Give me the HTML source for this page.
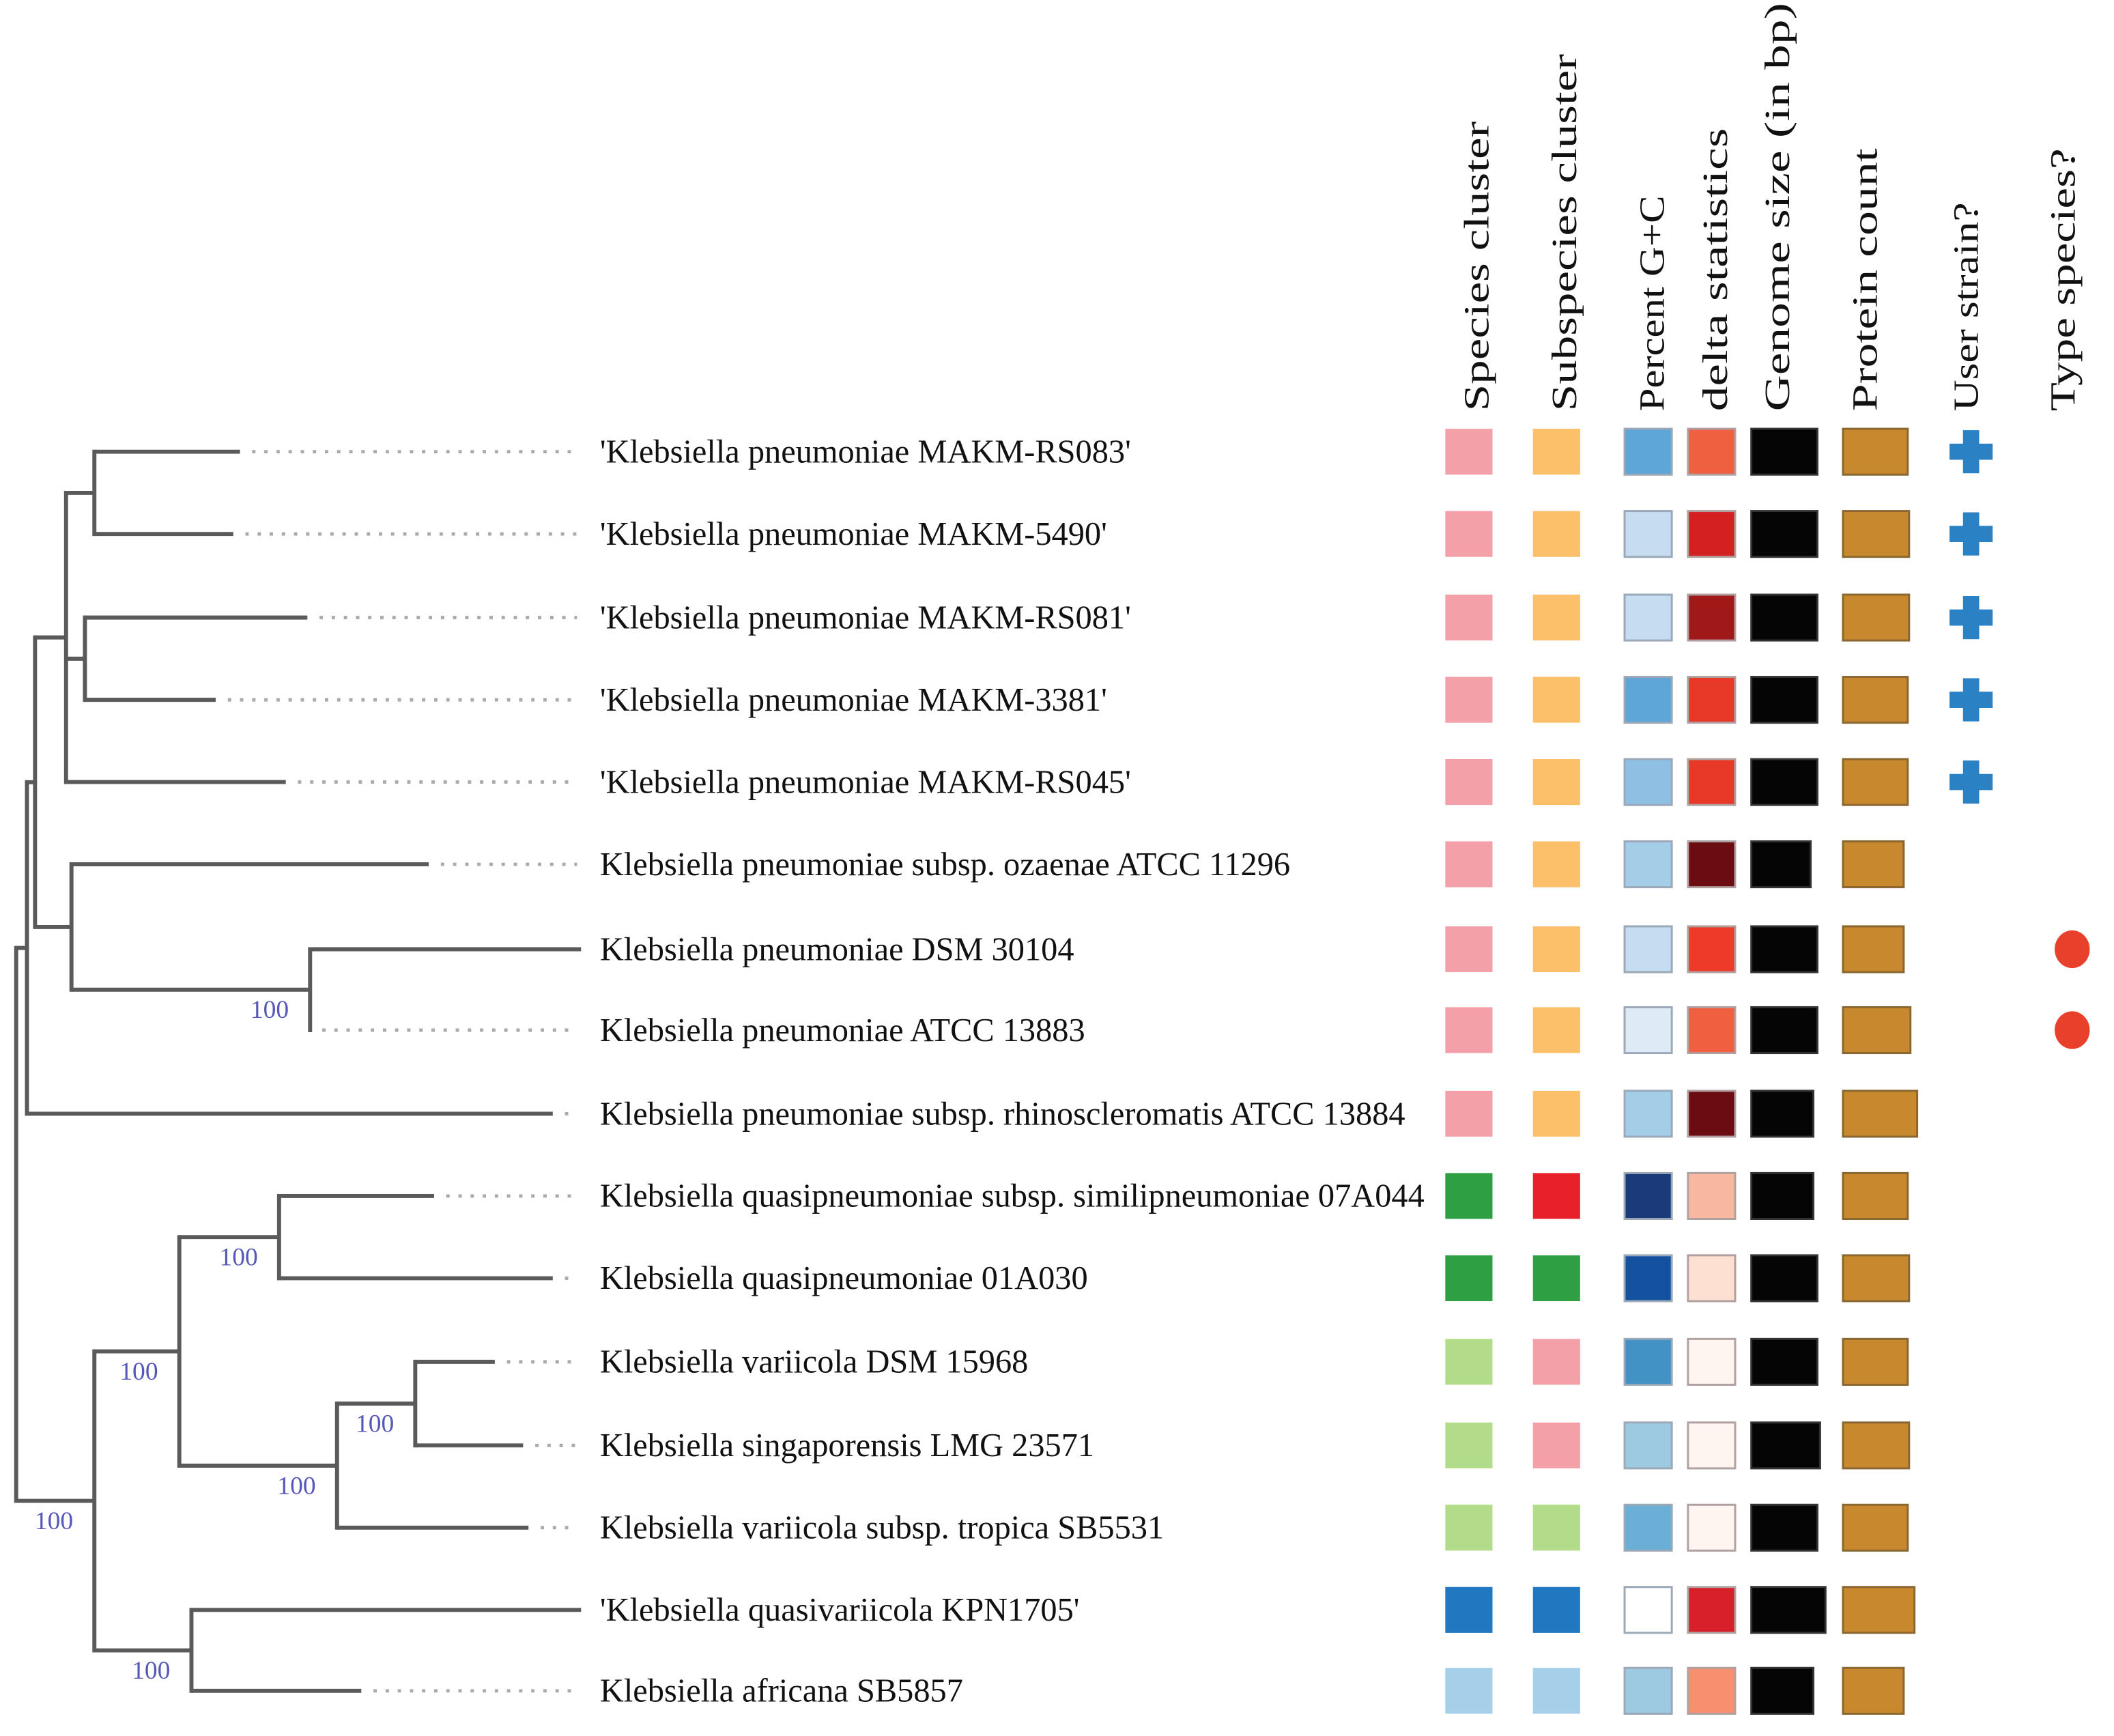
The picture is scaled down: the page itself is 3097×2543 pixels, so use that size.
<!DOCTYPE html>
<html><head><meta charset="utf-8"><style>
html,body{margin:0;padding:0;background:#fff;}
svg{display:block;}
</style></head><body>
<svg id="chart" xmlns="http://www.w3.org/2000/svg" width="3097" height="2543" viewBox="0 0 1568 1287.5">
<rect x="0" y="0" width="1568" height="1287.5" fill="#fff"/>
<g id="tree"></g>
<g id="labels"></g>
<g id="headers"></g>
<g id="cells"></g>
</svg>
<script>
const strains = [
"'Klebsiella pneumoniae MAKM-RS083'",
"'Klebsiella pneumoniae MAKM-5490'",
"'Klebsiella pneumoniae MAKM-RS081'",
"'Klebsiella pneumoniae MAKM-3381'",
"'Klebsiella pneumoniae MAKM-RS045'",
"Klebsiella pneumoniae subsp. ozaenae ATCC 11296",
"Klebsiella pneumoniae DSM 30104",
"Klebsiella pneumoniae ATCC 13883",
"Klebsiella pneumoniae subsp. rhinoscleromatis ATCC 13884",
"Klebsiella quasipneumoniae subsp. similipneumoniae 07A044",
"Klebsiella quasipneumoniae 01A030",
"Klebsiella variicola DSM 15968",
"Klebsiella singaporensis LMG 23571",
"Klebsiella variicola subsp. tropica SB5531",
"'Klebsiella quasivariicola KPN1705'",
"Klebsiella africana SB5857"];
const rowY = [335,396,458,519,580,641,704,764,826,887,948,1010,1072,1133,1194,1254];
const leafEnd = [178,173,228,160,212,318,431,230,410,322,410,367,388,392,431,268];
const nodeX = {A:70,C:63,B:49,G:230,F:53,E:26,H:20,K:207,M:308,L:250,J:133,N:142,I:70,R:12};
const nodeKids = {A:[0,1],C:[2,3],B:['A','C',4],G:[6,7],F:[5,'G'],E:['B','F'],H:['E',8],
  K:[9,10],M:[11,12],L:['M',13],J:['K','L'],N:[14,15],I:['J','N'],R:['H','I']};
const bootstrapNodes = ['G','K','J','M','L','R','N'];
const bootstrapVals = [100,100,100,100,100,100,100];
const headerNames = ["Species cluster","Subspecies cluster","Percent G+C","delta statistics","Genome size (in bp)","Protein count","User strain?","Type species?"];
const speciesColor = ["#f4a0a8","#f4a0a8","#f4a0a8","#f4a0a8","#f4a0a8","#f4a0a8","#f4a0a8","#f4a0a8","#f4a0a8","#2ea043","#2ea043","#b3dc8a","#b3dc8a","#b3dc8a","#1f78c0","#a6cfea"];
const subspeciesColor = ["#fcbf6a","#fcbf6a","#fcbf6a","#fcbf6a","#fcbf6a","#fcbf6a","#fcbf6a","#fcbf6a","#fcbf6a","#e8202a","#2ea043","#f4a0a8","#f4a0a8","#b3dc8a","#1f78c0","#a6cfea"];
const gcColor = ["#5fa6d8","#c6dcf0","#c6dcf0","#5fa6d8","#8fc0e3","#a4cde8","#c6dcf0","#deebf7","#a4cde8","#1a3a7a","#1452a0","#4292c6","#9ecae1","#6baed6","#ffffff","#9ecae1"];
const deltaColor = ["#ee6040","#d42020","#a01818","#e83828","#e83828","#6a0c12","#ee3a28","#f06040","#6a0c12","#f8b8a0","#fde0d2","#fff5f0","#fff5f0","#fff5f0","#d8202a","#f89070"];
const genomeWidth = [49,49,49,49,49,44,49,49,46,46,49,49,51,49,55,46];
const proteinWidth = [48,49,49,48,48,45,45,50,55,48,49,48,49,48,53,45];
const userStrain = [1,1,1,1,1,0,0,0,0,0,0,0,0,0,0,0];
const typeSpecies = [0,0,0,0,0,0,1,1,0,0,0,0,0,0,0,0];

const NS="http://www.w3.org/2000/svg";
function mk(tag, attrs, parent){const e=document.createElementNS(NS,tag);for(const k in attrs)e.setAttribute(k,attrs[k]);parent.appendChild(e);return e;}
const tree=document.getElementById('tree');
const nodeY={};
function yOf(c){ if(typeof c==='number') return rowY[c]; if(nodeY[c]===undefined){const ks=nodeKids[c].map(yOf);nodeY[c]=(Math.min(...ks)+Math.max(...ks))/2;} return nodeY[c]; }
const LINE="#5a5a5a";
for(const n in nodeKids){
  const x=nodeX[n]; const ys=nodeKids[n].map(yOf);
  const v=mk('line',{x1:x,x2:x,y1:Math.min(...ys)-1.5,y2:Math.max(...ys)+1.5,stroke:LINE,'stroke-width':3},tree);
  
  
  nodeKids[n].forEach(c=>{
    const cx = typeof c==='number'? leafEnd[c] : nodeX[c];
    const h=mk('line',{x1:x,x2:cx,y1:yOf(c),y2:yOf(c),stroke:LINE,'stroke-width':3},tree);
    
    
  });
}
rowY.forEach((y,i)=>{
  if(leafEnd[i]<425){
    const d=mk('line',{x1:leafEnd[i]+9,x2:428,y1:y,y2:y,stroke:'#aaa','stroke-width':2.5,'stroke-dasharray':'2.5 6.5'},tree);
    
    
  }
});
bootstrapNodes.forEach((n,i)=>{
  const isRoot = n==='R';
  const cx = isRoot ? nodeX[n]+28 : nodeX[n]-30;
  const cy = isRoot ? yOf('I') : yOf(n);
  const t=mk('text',{x:cx,y:cy+21,'text-anchor':'middle','font-family':'Liberation Serif, serif','font-size':19,fill:'#5558b8'},tree);
  t.textContent=bootstrapVals[i];
  
  
});
const labels=document.getElementById('labels');
strains.forEach((s,i)=>{
  const t=mk('text',{x:445,y:rowY[i]+8,'font-family':'Liberation Serif, serif','font-size':24.5,fill:'#111'},labels);
  t.textContent=s;
  
  
});
const headers=document.getElementById('headers');
const hx=[1095,1160,1225,1272,1318,1383,1458,1530];
const htop=[90,40,145,95,2,110,150,110];
headerNames.forEach((h,i)=>{
  const len=305-htop[i];
  const t=mk('text',{x:0,y:0,transform:`translate(${hx[i]+9},305) rotate(-90)`,'font-family':'Liberation Serif, serif','font-size':26,fill:'#111',textLength:len,lengthAdjust:'spacingAndGlyphs'},headers);
  t.textContent=h;
  
  
});
const cells=document.getElementById('cells');
function box(x,y,w,fill,stroke,name){
  const r=mk('rect',{x:x,y:y-17,width:w,height:34,fill:fill,stroke:stroke,'stroke-width':1.5},cells);
  
  
}
rowY.forEach((y,i)=>{
  box(1072,y,35,speciesColor[i],'none','species-cell-'+i);
  box(1137,y,35,subspeciesColor[i],'none','subspecies-cell-'+i);
  box(1205,y,35,gcColor[i],'#9aa8b8','gc-cell-'+i);
  box(1252,y,35,deltaColor[i],'#b0a0a0','delta-cell-'+i);
  box(1299,y,genomeWidth[i],'#050505','#333','genome-cell-'+i);
  box(1367,y,proteinWidth[i],'#c8882e','#8a6630','protein-cell-'+i);
  if(userStrain[i]){
    const p=mk('path',{d:`M${1456} ${y-16}h12v10h10v12h-10v10h-12v-10h-10v-12h10z`,fill:'#2a82c4'},cells);
    
    
  }
  if(typeSpecies[i]){
    const c=mk('ellipse',{cx:1537,cy:y,rx:13,ry:14,fill:'#e8402a'},cells);
    
    
  }
});
</script>
</body></html>
